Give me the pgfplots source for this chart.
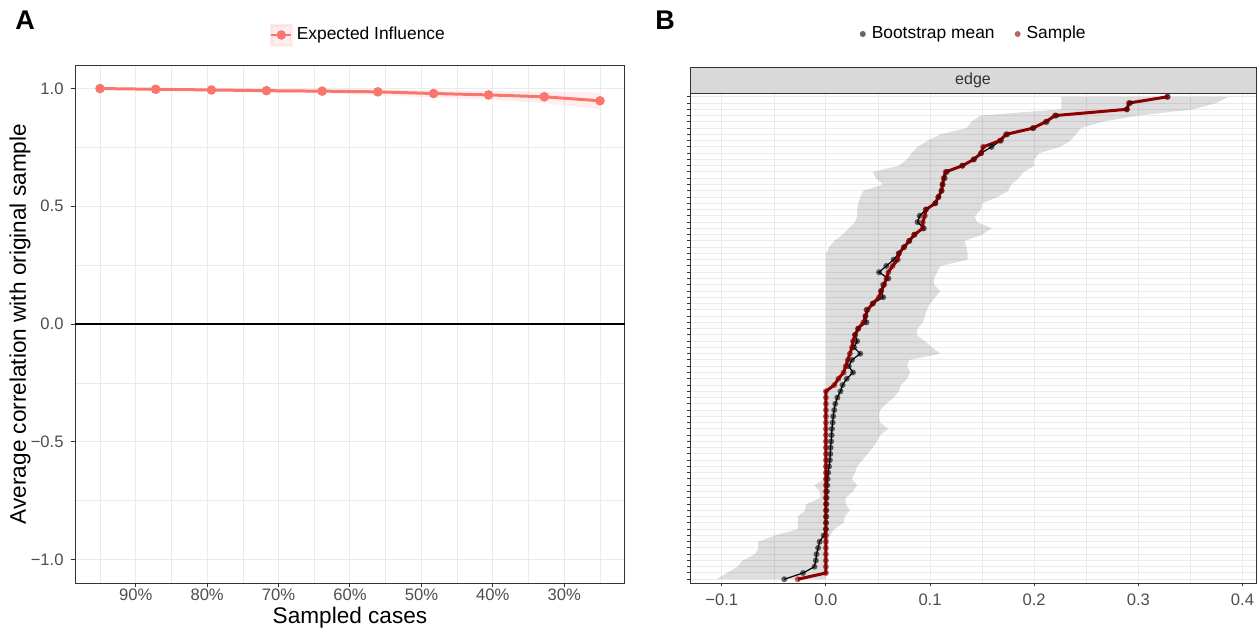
\documentclass[border=0pt]{standalone}
\usepackage{pgfplots}
\pgfplotsset{compat=1.18}
\usepackage{pgfplotstable}
\usepgfplotslibrary{fillbetween}
\usepackage{fontspec}
\setmainfont{Liberation Sans}
\definecolor{eipink}{HTML}{F8766D}
\definecolor{dred}{HTML}{8B0000}
\definecolor{gg}{HTML}{EBEBEB}
\definecolor{gtwenty}{HTML}{333333}
\definecolor{gthirty}{HTML}{4D4D4D}
\definecolor{stripgray}{HTML}{D9D9D9}

% x = minus the share of sampled cases (so that 95% is on the left)
\pgfplotstableread{
x y lo hi
-95.0 1.000 0.998 1.000
-87.2 0.997 0.993 1.000
-79.4 0.994 0.988 0.999
-71.7 0.991 0.983 0.998
-63.9 0.989 0.978 0.997
-56.1 0.986 0.972 0.996
-48.3 0.979 0.962 0.993
-40.6 0.973 0.952 0.990
-32.8 0.965 0.938 0.988
-25.0 0.948 0.912 0.983
}\dataA

\pgfplotstableread{
pos s m lo hi
78 0.328 0.328 0.226 0.387
77 0.291 0.292 0.226 0.375
76 0.289 0.289 0.226 0.353
75 0.220 0.221 0.148 0.300
74 0.211 0.212 0.140 0.265
73 0.199 0.199 0.135 0.245
72 0.173 0.174 0.110 0.240
71 0.167 0.168 0.098 0.235
70 0.151 0.159 0.088 0.225
69 0.149 0.149 0.082 0.205
68 0.142 0.142 0.078 0.200
67 0.131 0.131 0.070 0.200
66 0.115 0.116 0.045 0.190
65 0.113 0.114 0.048 0.185
64 0.112 0.112 0.055 0.178
63 0.111 0.111 0.036 0.175
62 0.108 0.108 0.033 0.165
61 0.105 0.105 0.031 0.150
60 0.096 0.096 0.030 0.149
59 0.095 0.090 0.030 0.143
58 0.093 0.088 0.028 0.145
57 0.093 0.094 0.022 0.159
56 0.085 0.085 0.016 0.150
55 0.080 0.080 0.008 0.133
54 0.075 0.075 0.003 0.135
53 0.070 0.070 0.000 0.136
52 0.069 0.065 0.000 0.136
51 0.064 0.058 0.000 0.110
50 0.060 0.051 0.000 0.107
49 0.058 0.060 0.000 0.104
48 0.056 0.055 0.000 0.104
47 0.053 0.053 0.000 0.110
46 0.051 0.055 0.000 0.105
45 0.045 0.045 0.000 0.100
44 0.040 0.039 0.000 0.097
43 0.038 0.038 0.000 0.095
42 0.036 0.039 0.000 0.093
41 0.031 0.031 0.000 0.088
40 0.028 0.028 0.000 0.087
39 0.026 0.030 0.000 0.095
38 0.025 0.027 0.000 0.102
37 0.023 0.033 0.000 0.110
36 0.021 0.025 0.000 0.080
35 0.019 0.022 0.000 0.078
34 0.017 0.026 0.000 0.081
33 0.012 0.020 0.000 0.078
32 0.008 0.016 0.000 0.072
31 0.000 0.014 0.000 0.070
30 0.000 0.011 0.000 0.065
29 0.000 0.009 0.000 0.058
28 0.000 0.008 0.000 0.052
27 0.000 0.007 0.000 0.051
26 0.000 0.0065 0.000 0.052
25 0.000 0.0058 0.000 0.060
24 0.000 0.0055 0.000 0.052
23 0.000 0.0050 0.000 0.049
22 0.000 0.0045 0.000 0.045
21 0.000 0.0042 0.000 0.040
20 0.000 0.0038 0.000 0.035
19 0.000 0.0030 0.000 0.030
18 0.000 0.0022 0.000 0.028
17 0.000 0.0017 -0.002 0.025
16 0.000 0.0013 -0.011 0.030
15 0.000 0.0010 -0.006 0.026
14 0.000 0.0007 -0.005 0.019
13 0.000 0.0005 -0.019 0.019
12 0.000 0.0004 -0.020 0.023
11 0.000 0.0003 -0.027 0.018
10 0.000 0.0002 -0.027 0.017
9 0.000 0.0000 -0.027 0.008
8 0.000 -0.002 -0.049 0.004
7 0.000 -0.006 -0.065 0.002
6 0.000 -0.0075 -0.065 0.001
5 0.000 -0.009 -0.068 0.000
4 0.000 -0.0097 -0.080 0.000
3 0.000 -0.011 -0.085 0.000
2 0.000 -0.022 -0.095 0.000
1 -0.027 -0.040 -0.105 0.000
}\dataB

\pgfplotsset{
  ggbase/.style={
    scale only axis,
    anchor=south west,
    /pgf/number format/assume math mode=true,
    grid=both,
    major grid style={color=gg, line width=0.5pt},
    minor grid style={color=gg, line width=0.25pt},
    axis line style={color=gtwenty, line width=0.5pt},
    tick style={color=gtwenty, line width=0.5pt},
    major tick length=2.2pt,
    minor tick length=0pt,
    tick align=outside,
    tick pos=left,
    ticklabel style={font=\fontsize{8.3}{10}\selectfont, text=gthirty},
    label style={font=\fontsize{11.3}{13}\selectfont},
    legend style={draw=none, fill=none, font=\fontsize{8.7}{10}\selectfont},
  }
}

\begin{document}
\begin{tikzpicture}
\path (0,0) rectangle (629pt,314.5pt);

% Panel A
\begin{axis}[ggbase,
  name=A,
  at={(37.5pt,23pt)},
  width=275pt, height=259pt,
  xmin=-98.5, xmax=-21.5,
  ymin=-1.1, ymax=1.1,
  xtick={-90,-80,-70,-60,-50,-40,-30},
  xticklabels={90\%,80\%,70\%,60\%,50\%,40\%,30\%},
  xticklabel style={yshift=2.8pt},
  minor xtick={-95,-85,-75,-65,-55,-45,-35,-25},
  ytick={-1,-0.5,0,0.5,1},
  yticklabels={−1.0,−0.5,0.0,0.5,1.0},
  minor ytick={-0.75,-0.25,0.25,0.75},
  xlabel={Sampled cases},
  xlabel style={at={(axis description cs:0.5,0)}, anchor=base, yshift=-20.3pt},
  ylabel={Average correlation with original sample},
  ylabel style={at={(axis description cs:-0.1,0.5)}, anchor=center},
  legend style={at={(0.517,1)}, anchor=center, yshift=15pt},
  legend image code/.code={
    \fill[eipink, opacity=0.12] (0pt,-5pt) rectangle (10pt,5pt);
    \draw[eipink, line width=1.4pt] (0pt,0pt) -- (10pt,0pt);
    \fill[eipink] (5pt,0pt) circle (1.6pt);
  },
]
\addplot[name path=alo, draw=none, forget plot] table[x=x,y=lo]{\dataA};
\addplot[name path=ahi, draw=none, forget plot] table[x=x,y=hi]{\dataA};
\addplot[fill=eipink, fill opacity=0.12, draw=none, forget plot] fill between[of=alo and ahi];
\addplot[black, line width=0.9pt, forget plot] coordinates {(-98.5,0) (-21.5,0)};
\addplot[eipink, line width=1.5pt, mark=*, mark size=1.6pt] table[x=x,y=y]{\dataA};
\addlegendentry{Expected Influence}
\end{axis}

% Panel B
\begin{axis}[ggbase,
  name=B,
  at={(345pt,23pt)},
  width=283pt, height=245pt,
  xmin=-0.1305, xmax=0.413,
  ymin=0.4, ymax=78.6,
  xtick={-0.1,0,0.1,0.2,0.3,0.4},
  xticklabels={−0.1,0.0,0.1,0.2,0.3,0.4},
  xticklabel style={yshift=-0.3pt},
  minor xtick={-0.05,0.05,0.15,0.25,0.35},
  ytick={1,...,78},
  yticklabels={},
  major tick length=1.6pt,
  legend columns=2,
  legend style={at={(0.503,1)}, anchor=center, yshift=29.5pt,
    /tikz/every odd column/.append style={column sep=1pt},
    /tikz/every even column/.append style={column sep=8pt}},
]
\addplot[name path=blo, draw=none, forget plot] table[x=lo,y=pos]{\dataB};
\addplot[name path=bhi, draw=none, forget plot] table[x=hi,y=pos]{\dataB};
\addplot[fill=black, fill opacity=0.13, draw=none, forget plot] fill between[of=blo and bhi];
\addplot[black, line width=0.6pt, forget plot] table[x=m,y=pos]{\dataB};
\addplot[dred, line width=1.5pt, forget plot] table[x=s,y=pos]{\dataB};
\addplot[only marks, mark=*, mark size=1.5pt, black, mark options={draw opacity=0, fill=black, fill opacity=0.6}] table[x=m,y=pos]{\dataB};
\addlegendentry{Bootstrap mean}
\addplot[only marks, mark=*, mark size=1.5pt, dred, mark options={draw opacity=0, fill=dred, fill opacity=0.6}] table[x=s,y=pos]{\dataB};
\addlegendentry{Sample}
\end{axis}

\draw[fill=stripgray, draw=gtwenty, line width=0.5pt] (B.north west) rectangle ([yshift=13pt]B.north east);
\node[font=\fontsize{8}{10}\selectfont, text=gtwenty] at ([yshift=6.5pt]B.north) {edge};

\node[font=\bfseries\fontsize{13.5}{15}\selectfont] at (12.5pt,304.5pt) {A};
\node[font=\bfseries\fontsize{13.5}{15}\selectfont] at (332.5pt,304.5pt) {B};

\pgfresetboundingbox
\path (0,0) rectangle (629pt,314.5pt);
\end{tikzpicture}
\end{document}
